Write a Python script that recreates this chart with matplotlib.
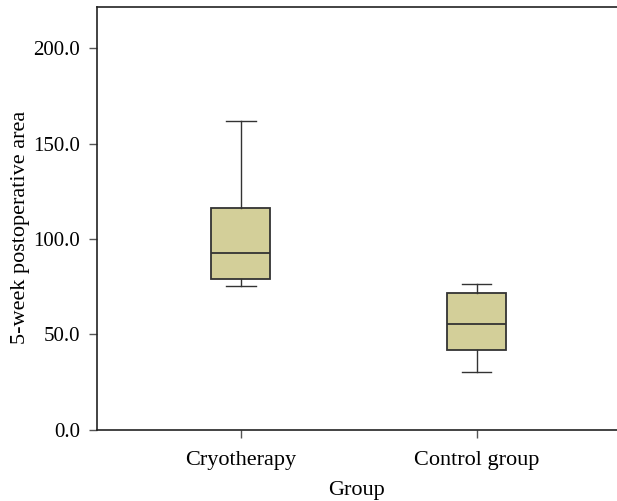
import matplotlib.pyplot as plt

# box statistics
groups = ["Cryotherapy", "Control group"]
whis_lo = [75.5, 30.5]
q1 = [79.0, 42.0]
median = [92.7, 55.5]
q3 = [116.2, 71.8]
whis_hi = [161.8, 76.2]

y_ticks = [0, 50, 100, 150, 200]

plt.rcParams['font.family'] = ['Liberation Serif', 'DejaVu Serif']

fig = plt.figure(figsize=(6.17, 5.01), dpi=100)
ax = fig.add_axes([0.157, 0.142, 0.843, 0.844])

stats = []
for i, g in enumerate(groups):
    stats.append({"label": g, "whislo": whis_lo[i], "q1": q1[i], "med": median[i],
                  "q3": q3[i], "whishi": whis_hi[i], "fliers": []})

edge = "#333333"
ax.bxp(stats, positions=[1, 2], widths=0.25, patch_artist=True, showfliers=False,
       boxprops=dict(facecolor="#d3cf99", edgecolor=edge, linewidth=1.3),
       medianprops=dict(color=edge, linewidth=1.3),
       whiskerprops=dict(color=edge, linewidth=1.0),
       capprops=dict(color=edge, linewidth=1.0), capwidths=0.125)

ax.set_xlim(0.39, 2.595)
ax.set_ylim(0, 221.5)
ax.set_yticks(y_ticks)
ax.set_yticklabels([f"{v:.1f}" for v in y_ticks])
ax.set_xticks([1, 2])
ax.set_xticklabels(groups)

ax.tick_params(axis="both", length=6, color="#555555", width=1.0)
ax.tick_params(axis="y", labelsize=15, pad=6)
ax.tick_params(axis="x", labelsize=16, pad=9)

ax.set_xlabel("Group", fontsize=16, labelpad=8)
ax.set_ylabel("5-week postoperative area", fontsize=16)
ax.yaxis.set_label_coords(-0.128, 0.48)

for s in ["left", "top", "bottom"]:
    ax.spines[s].set_color("#222222")
    ax.spines[s].set_linewidth(1.2)
ax.spines["right"].set_visible(False)

fig.savefig("out.png", dpi=100)
